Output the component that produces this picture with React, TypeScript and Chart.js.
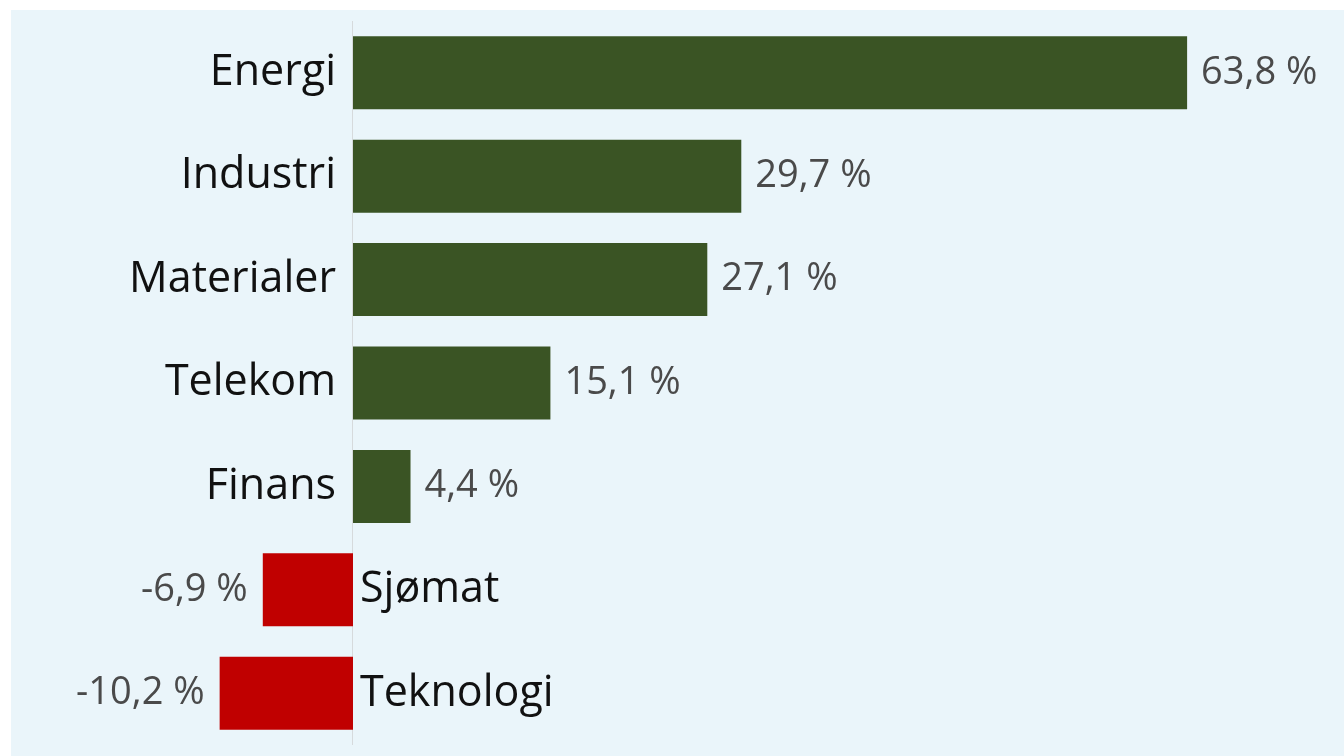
import React, { useEffect, useRef } from "react";
import { Chart, registerables } from "chart.js";

Chart.register(...registerables);

const categories = ["Energi", "Industri", "Materialer", "Telekom", "Finans", "Sjømat", "Teknologi"];
const values = [63.8, 29.7, 27.1, 15.1, 4.4, -6.9, -10.2];
const valueLabels = ["63,8 %", "29,7 %", "27,1 %", "15,1 %", "4,4 %", "-6,9 %", "-10,2 %"];

const GREEN = "#3A5424";
const RED = "#C00000";
const PANEL = "#EAF5FA";

const labelsPlugin = {
  id: "labelsPlugin",
  beforeDraw(chart: any) {
    const { ctx, width, height } = chart;
    ctx.save();
    ctx.fillStyle = "#ffffff";
    ctx.fillRect(0, 0, width, height);
    ctx.fillStyle = PANEL;
    ctx.fillRect(11, 10, width - 11, height - 10);
    ctx.restore();
  },
  beforeDatasetsDraw(chart: any) {
    const { ctx, chartArea } = chart;
    const x0 = chart.scales.x.getPixelForValue(0);
    ctx.save();
    ctx.strokeStyle = "#d6dadc";
    ctx.lineWidth = 1;
    ctx.beginPath();
    ctx.moveTo(Math.round(x0) - 0.5, chartArea.top);
    ctx.lineTo(Math.round(x0) - 0.5, chartArea.bottom);
    ctx.stroke();
    ctx.restore();
  },
  afterDatasetsDraw(chart: any) {
    const { ctx } = chart;
    const meta = chart.getDatasetMeta(0);
    const x0 = chart.scales.x.getPixelForValue(0);
    ctx.save();
    ctx.textBaseline = "middle";
    meta.data.forEach((bar: any, i: number) => {
      const v = values[i];
      const y = bar.y;
      ctx.font = "43px 'Open Sans'";
      ctx.fillStyle = "#111111";
      if (v >= 0) {
        ctx.textAlign = "right";
        ctx.fillText(categories[i], x0 - 17, y);
      } else {
        ctx.textAlign = "left";
        ctx.fillText(categories[i], x0 + 7, y);
      }
      ctx.font = "38px 'Open Sans'";
      ctx.fillStyle = "#4a4a4a";
      if (v >= 0) {
        ctx.textAlign = "left";
        ctx.fillText(valueLabels[i], bar.x + 14, y);
      } else {
        ctx.textAlign = "right";
        ctx.fillText(valueLabels[i], bar.x - 15, y);
      }
    });
    ctx.restore();
  },
};

export default function App() {
  const ref = useRef<HTMLCanvasElement>(null);
  useEffect(() => {
    if (!ref.current) return;
    const chart = new Chart(ref.current, {
      type: "bar",
      data: {
        labels: categories,
        datasets: [
          {
            data: values,
            backgroundColor: values.map((v) => (v >= 0 ? GREEN : RED)),
            borderWidth: 0,
            categoryPercentage: 1,
            barPercentage: 0.706,
          },
        ],
      },
      options: {
        indexAxis: "y",
        animation: false,
        responsive: false,
        maintainAspectRatio: false,
        devicePixelRatio: 1,
        layout: { padding: { top: 21, bottom: 11, left: 0, right: 0 } },
        plugins: { legend: { display: false }, tooltip: { enabled: false } },
        scales: {
          x: { type: "linear", min: -27, max: 75.8, display: false },
          y: { type: "category", display: false },
        },
      },
      plugins: [labelsPlugin],
    });
    return () => chart.destroy();
  }, []);
  return (
    <div style={{ position: "fixed", left: 0, top: 0, width: 1344, height: 756 }}>
      <canvas ref={ref} width={1344} height={756} style={{ display: "block", width: 1344, height: 756 }} />
    </div>
  );
}
